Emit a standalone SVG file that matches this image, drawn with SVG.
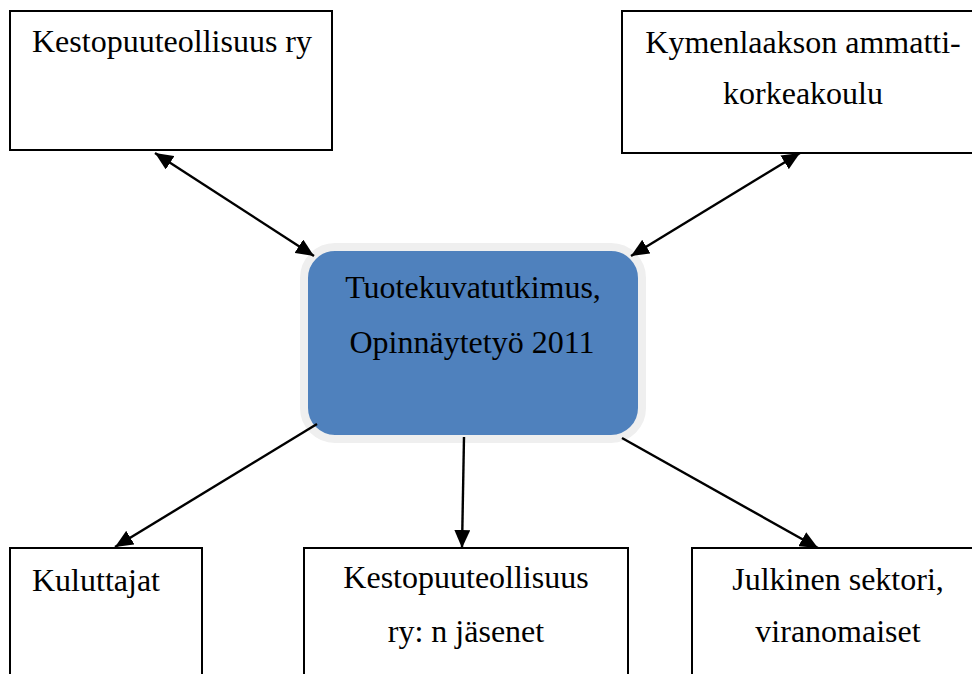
<svg xmlns="http://www.w3.org/2000/svg" width="972" height="674" viewBox="0 0 972 674">
<defs>
<style>
.box{fill:#ffffff;stroke:#000000;stroke-width:2}
.t{font-family:"Liberation Serif","Times New Roman",serif;font-size:32px;fill:#000000}
.c{text-anchor:middle}
.conn{stroke:#000000;stroke-width:2.4;fill:none}
</style>
<marker id="ah" viewBox="0 0 18 16" markerUnits="userSpaceOnUse" markerWidth="18" markerHeight="16" refX="18" refY="8" orient="auto-start-reverse">
<path d="M0,0 L18,8 L0,16 Z" fill="#000000"/>
</marker>
</defs>
<rect width="972" height="674" fill="#ffffff"/>
<g id="n-kestopuu">
<rect class="box" x="10" y="11" width="322" height="139"/>
<text class="t" x="32" y="52">Kestopuuteollisuus ry</text>
</g>
<g id="n-kyamk">
<rect class="box" x="622" y="11" width="362" height="142"/>
<text class="t c" x="803" y="53">Kymenlaakson ammatti-</text>
<text class="t c" x="803" y="104">korkeakoulu</text>
</g>
<g id="n-center">
<rect x="304" y="247" width="338" height="192" rx="31" ry="31" fill="#4F81BD" stroke="#EFEFEF" stroke-width="8"/>
<text class="t c" x="473" y="298">Tuotekuvatutkimus,</text>
<text class="t c" x="472" y="353">Opinnäytetyö 2011</text>
</g>
<g id="n-kuluttajat">
<rect class="box" x="10" y="548" width="192" height="140"/>
<text class="t" x="32" y="591">Kuluttajat</text>
</g>
<g id="n-jasenet">
<rect class="box" x="304" y="548" width="324" height="140"/>
<text class="t c" x="466" y="588">Kestopuuteollisuus</text>
<text class="t c" x="466" y="642">ry: n jäsenet</text>
</g>
<g id="n-julkinen">
<rect class="box" x="692" y="548" width="292" height="140"/>
<text class="t c" x="838" y="590">Julkinen sektori,</text>
<text class="t c" x="838" y="642">viranomaiset</text>
</g>
<g id="connectors">
<line class="conn" x1="155" y1="153" x2="314" y2="256" marker-start="url(#ah)" marker-end="url(#ah)"/>
<line class="conn" x1="800" y1="153" x2="631" y2="256" marker-start="url(#ah)" marker-end="url(#ah)"/>
<line class="conn" x1="317" y1="424" x2="115" y2="547" marker-end="url(#ah)"/>
<line class="conn" x1="464" y1="437" x2="462" y2="548" marker-end="url(#ah)"/>
<line class="conn" x1="622" y1="438" x2="818" y2="548" marker-end="url(#ah)"/>
</g>
</svg>
